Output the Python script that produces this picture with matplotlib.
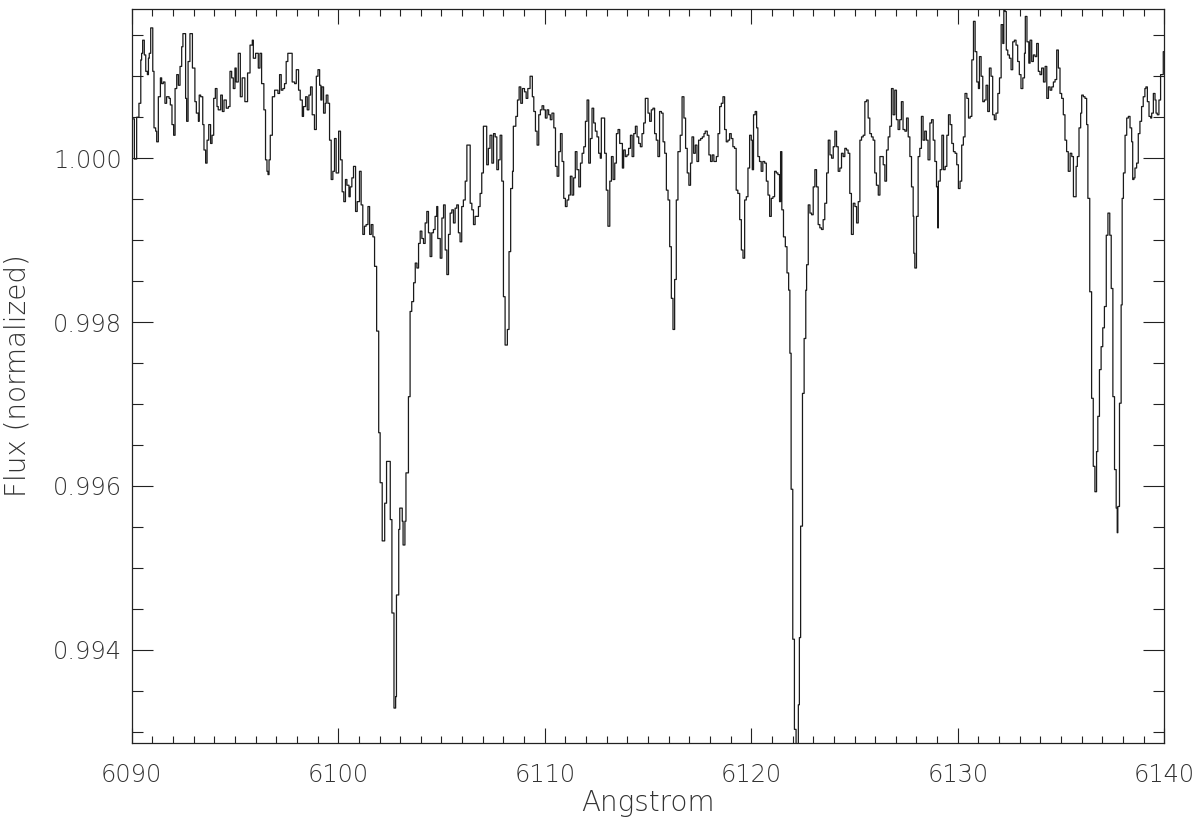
import numpy as np
import matplotlib
matplotlib.use("Agg")
import matplotlib.pyplot as plt
from matplotlib.ticker import MultipleLocator, FixedLocator

# ---- data (wavelength in Angstrom, normalized flux) ----
wavelength = [
 6090.00, 6090.13, 6090.24, 6090.35, 6090.44, 6090.48, 6090.53, 6090.61, 6090.68, 6090.76,
 6090.81, 6090.85, 6090.92, 6091.02, 6091.08, 6091.16, 6091.21, 6091.29, 6091.39, 6091.45,
 6091.53, 6091.61, 6091.69, 6091.81, 6091.87, 6091.95, 6092.03, 6092.10, 6092.18, 6092.26,
 6092.34, 6092.42, 6092.48, 6092.61, 6092.66, 6092.73, 6092.82, 6092.94, 6093.06, 6093.13,
 6093.23, 6093.27, 6093.34, 6093.44, 6093.50, 6093.58, 6093.65, 6093.73, 6093.82, 6093.89,
 6093.97, 6094.05, 6094.13, 6094.19, 6094.31, 6094.39, 6094.47, 6094.58, 6094.68, 6094.76,
 6094.84, 6094.92, 6095.00, 6095.06, 6095.16, 6095.26, 6095.35, 6095.48, 6095.61, 6095.73,
 6095.84, 6095.89, 6096.00, 6096.13, 6096.21, 6096.29, 6096.40,
 6096.48, 6096.55, 6096.60, 6096.65, 6096.71, 6096.81, 6096.92, 6097.08, 6097.16, 6097.24,
 6097.32, 6097.40, 6097.48, 6097.56, 6097.77, 6097.89, 6097.97, 6098.08, 6098.16, 6098.26,
 6098.32, 6098.42, 6098.50, 6098.58, 6098.66, 6098.74, 6098.85, 6098.94, 6099.02, 6099.10,
 6099.16, 6099.21, 6099.29, 6099.37, 6099.42, 6099.50, 6099.58, 6099.66, 6099.74, 6099.82,
 6099.90, 6100.02, 6100.11, 6100.19, 6100.27, 6100.35, 6100.42, 6100.52, 6100.58, 6100.66,
 6100.74, 6100.84, 6100.92, 6101.03, 6101.11, 6101.19, 6101.27, 6101.35, 6101.44, 6101.52,
 6101.60, 6101.68, 6101.76,
 6101.86, 6101.96, 6102.03, 6102.13, 6102.25, 6102.34, 6102.52, 6102.60, 6102.70, 6102.78,
 6102.82, 6102.93, 6102.98, 6103.10, 6103.14, 6103.23, 6103.28, 6103.40, 6103.48, 6103.56,
 6103.65, 6103.73, 6103.81, 6103.89, 6103.97,
 6104.05, 6104.13, 6104.21, 6104.29, 6104.37, 6104.45, 6104.53, 6104.61, 6104.69, 6104.77,
 6104.82, 6104.94, 6105.02, 6105.10, 6105.18, 6105.26, 6105.34, 6105.42, 6105.50, 6105.58,
 6105.66, 6105.74, 6105.82, 6105.90, 6105.98, 6106.06, 6106.15, 6106.23, 6106.39, 6106.47,
 6106.55, 6106.63, 6106.79, 6106.87, 6106.95, 6107.03, 6107.19, 6107.27, 6107.35, 6107.44,
 6107.52, 6107.60, 6107.68, 6107.76, 6107.84, 6107.92, 6108.00, 6108.08, 6108.19, 6108.27,
 6108.35, 6108.44, 6108.48, 6108.60, 6108.68, 6108.76, 6108.84, 6108.92, 6109.02, 6109.10,
 6109.18, 6109.29,
 6109.40, 6109.47, 6109.55, 6109.63, 6109.71, 6109.79, 6109.87, 6109.95, 6110.03, 6110.11,
 6110.19, 6110.27, 6110.35, 6110.44, 6110.52, 6110.60, 6110.68, 6110.76, 6110.84, 6110.92,
 6111.00, 6111.08, 6111.16, 6111.24, 6111.32, 6111.40, 6111.48, 6111.56, 6111.65, 6111.73,
 6111.81, 6111.89, 6111.97, 6112.05, 6112.13, 6112.21, 6112.29, 6112.37, 6112.45, 6112.53,
 6112.61, 6112.69, 6112.74, 6112.90, 6112.98, 6113.06, 6113.15, 6113.23, 6113.31, 6113.39,
 6113.47, 6113.55, 6113.63, 6113.76, 6113.82, 6113.90, 6113.98, 6114.06, 6114.15, 6114.23,
 6114.31, 6114.39, 6114.47, 6114.55, 6114.63, 6114.71, 6114.79, 6114.87, 6115.00, 6115.08,
 6115.16, 6115.24, 6115.32, 6115.40, 6115.48, 6115.56, 6115.65, 6115.73, 6115.81, 6115.89,
 6115.97,
 6116.05, 6116.13, 6116.21, 6116.29, 6116.37, 6116.45, 6116.56, 6116.65, 6116.74, 6116.82,
 6116.90, 6116.98, 6117.06, 6117.13, 6117.21, 6117.29, 6117.37, 6117.45, 6117.55, 6117.63,
 6117.71, 6117.77, 6117.87, 6117.95, 6118.03, 6118.11, 6118.19, 6118.31, 6118.39, 6118.47,
 6118.55, 6118.63, 6118.71, 6118.79, 6118.87, 6118.95, 6119.03, 6119.11, 6119.19, 6119.27,
 6119.35, 6119.44, 6119.52, 6119.60, 6119.68, 6119.76, 6119.84, 6119.92, 6120.00, 6120.05,
 6120.11, 6120.19, 6120.26, 6120.32, 6120.40, 6120.48, 6120.56, 6120.65, 6120.73, 6120.81,
 6120.89, 6120.97, 6121.05, 6121.13, 6121.21, 6121.29, 6121.37, 6121.42, 6121.48, 6121.56,
 6121.65, 6121.73, 6121.81,
 6121.87, 6121.93, 6122.01, 6122.09, 6122.17, 6122.28, 6122.33, 6122.39, 6122.48, 6122.56,
 6122.64, 6122.68, 6122.76, 6122.84, 6122.92,
 6123.00, 6123.08, 6123.16, 6123.24, 6123.32, 6123.40, 6123.48, 6123.56, 6123.65, 6123.73,
 6123.81, 6123.89, 6123.97, 6124.05, 6124.13, 6124.21, 6124.29, 6124.37, 6124.45, 6124.53,
 6124.61, 6124.69, 6124.77, 6124.85, 6124.94, 6125.02, 6125.10, 6125.18, 6125.26, 6125.34,
 6125.42, 6125.50, 6125.58, 6125.66, 6125.74, 6125.82, 6125.90, 6125.98, 6126.06, 6126.15,
 6126.23, 6126.39, 6126.47, 6126.55, 6126.63, 6126.71, 6126.79, 6126.87, 6126.95, 6127.03,
 6127.11, 6127.19, 6127.27, 6127.35, 6127.44, 6127.52, 6127.60, 6127.68, 6127.76, 6127.84,
 6127.87, 6127.92, 6128.00, 6128.08, 6128.16, 6128.24, 6128.32, 6128.40, 6128.48, 6128.56,
 6128.65, 6128.73, 6128.81, 6128.89, 6128.97,
 6129.03, 6129.06, 6129.15, 6129.23, 6129.31, 6129.39, 6129.47, 6129.55, 6129.63, 6129.71,
 6129.79, 6129.87, 6129.95, 6130.03, 6130.11, 6130.19, 6130.27, 6130.35, 6130.44, 6130.52,
 6130.60, 6130.68, 6130.76, 6130.84, 6130.92, 6131.00, 6131.05, 6131.13, 6131.21, 6131.29,
 6131.37, 6131.45, 6131.53, 6131.61, 6131.69, 6131.77, 6131.85, 6131.94, 6132.02, 6132.10,
 6132.18, 6132.23, 6132.29, 6132.35, 6132.42, 6132.50, 6132.58, 6132.66, 6132.74, 6132.82,
 6132.90, 6132.98, 6133.06, 6133.15, 6133.23, 6133.27, 6133.35, 6133.44, 6133.50, 6133.58,
 6133.66, 6133.74, 6133.82, 6133.90, 6133.98, 6134.06, 6134.15, 6134.23, 6134.31, 6134.39,
 6134.47, 6134.55, 6134.63, 6134.71, 6134.79, 6134.87, 6134.95, 6135.03, 6135.11, 6135.19,
 6135.27, 6135.35, 6135.44, 6135.52,
 6135.60, 6135.73, 6135.79, 6135.87, 6135.95, 6136.00, 6136.08, 6136.16, 6136.24, 6136.30,
 6136.39, 6136.48, 6136.56, 6136.64, 6136.72, 6136.78, 6136.86, 6136.94, 6137.02, 6137.10,
 6137.19, 6137.27, 6137.36, 6137.43, 6137.51, 6137.59, 6137.67, 6137.72, 6137.75, 6137.83,
 6137.91, 6137.96, 6138.02, 6138.10, 6138.18, 6138.26, 6138.34, 6138.42, 6138.47, 6138.53,
 6138.58, 6138.66, 6138.74, 6138.82, 6138.90, 6138.98, 6139.06, 6139.11, 6139.18, 6139.26,
 6139.34, 6139.39, 6139.47, 6139.55, 6139.60, 6139.66, 6139.74, 6139.82, 6139.95,
]

flux = [
 1.00048, 0.99999, 1.00050, 1.00067, 1.00120, 1.00128, 1.00144, 1.00126, 1.00106, 1.00102,
 1.00122, 1.00128, 1.00159, 1.00106, 1.00037, 1.00033, 1.00020, 1.00075, 1.00098, 1.00091,
 1.00093, 1.00067, 1.00075, 1.00073, 1.00065, 1.00041, 1.00028, 1.00085, 1.00102, 1.00089,
 1.00112, 1.00136, 1.00152, 1.00073, 1.00045, 1.00118, 1.00152, 1.00110, 1.00069, 1.00055,
 1.00045, 1.00077, 1.00075, 1.00041, 1.00010, 0.99994, 1.00022, 1.00041, 1.00018, 1.00028,
 1.00073, 1.00085, 1.00063, 1.00059, 1.00077, 1.00057, 1.00071, 1.00061, 1.00063, 1.00106,
 1.00098, 1.00085, 1.00110, 1.00093, 1.00128, 1.00075, 1.00098, 1.00069, 1.00104, 1.00138,
 1.00144, 1.00122, 1.00128, 1.00110, 1.00128, 1.00091, 1.00059,
 0.99998, 0.99984, 0.99980, 0.99998, 1.00028, 1.00075, 1.00083, 1.00079, 1.00102, 1.00083,
 1.00085, 1.00091, 1.00118, 1.00128, 1.00093, 1.00091, 1.00108, 1.00083, 1.00071, 1.00051,
 1.00063, 1.00075, 1.00059, 1.00077, 1.00087, 1.00053, 1.00035, 1.00100, 1.00108, 1.00089,
 1.00071, 1.00087, 1.00055, 1.00067, 1.00077, 1.00067, 1.00022, 0.99974, 0.99984, 1.00024,
 0.99982, 1.00033, 0.99998, 0.99959, 0.99947, 0.99974, 0.99967, 0.99953, 0.99965, 0.99976,
 0.99990, 0.99935, 0.99947, 0.99984, 0.99943, 0.99907, 0.99917, 0.99919, 0.99941, 0.99907,
 0.99919, 0.99904, 0.99868,
 0.99789, 0.99665, 0.99604, 0.99533, 0.99579, 0.99630, 0.99559, 0.99445, 0.99329, 0.99343,
 0.99467, 0.99547, 0.99573, 0.99557, 0.99528, 0.99557, 0.99616, 0.99709, 0.99813, 0.99825,
 0.99848, 0.99872, 0.99866, 0.99896, 0.99911,
 0.99902, 0.99896, 0.99921, 0.99935, 0.99909, 0.99880, 0.99909, 0.99913, 0.99929, 0.99941,
 0.99902, 0.99878, 0.99927, 0.99943, 0.99888, 0.99858, 0.99907, 0.99933, 0.99937, 0.99921,
 0.99939, 0.99943, 0.99909, 0.99898, 0.99941, 0.99949, 0.99972, 1.00016, 0.99945, 0.99937,
 0.99919, 0.99929, 0.99941, 0.99957, 0.99982, 1.00039, 0.99992, 1.00012, 1.00028, 0.99994,
 1.00030, 1.00026, 0.99986, 0.99998, 1.00028, 0.99972, 0.99831, 0.99772, 0.99791, 0.99886,
 0.99963, 0.99984, 1.00039, 1.00051, 1.00071, 1.00087, 1.00067, 1.00085, 1.00081, 1.00073,
 1.00085, 1.00100,
 1.00075, 1.00057, 1.00033, 1.00016, 1.00053, 1.00059, 1.00064, 1.00059, 1.00049, 1.00059,
 1.00053, 1.00047, 1.00055, 1.00037, 0.99990, 0.99978, 1.00008, 1.00030, 0.99996, 0.99951,
 0.99941, 0.99949, 0.99955, 0.99978, 0.99955, 0.99976, 1.00008, 0.99986, 0.99965, 0.99994,
 1.00006, 1.00014, 1.00045, 1.00071, 0.99994, 1.00024, 1.00061, 1.00043, 1.00033, 1.00026,
 1.00006, 1.00000, 1.00049, 1.00006, 0.99961, 0.99917, 0.99972, 1.00002, 0.99974, 0.99994,
 1.00030, 1.00035, 1.00018, 0.99988, 1.00010, 1.00002, 1.00004, 1.00012, 1.00028, 1.00002,
 1.00030, 1.00039, 1.00026, 1.00018, 1.00014, 1.00030, 1.00043, 1.00073, 1.00055, 1.00045,
 1.00059, 1.00061, 1.00030, 1.00022, 1.00002, 1.00057, 1.00055, 1.00020, 1.00006, 0.99961,
 0.99949,
 0.99892, 0.99829, 0.99791, 0.99852, 0.99949, 1.00008, 1.00028, 1.00075, 1.00049, 1.00012,
 0.99982, 0.99967, 0.99994, 1.00026, 1.00006, 1.00016, 0.99996, 1.00022, 1.00024, 1.00026,
 1.00030, 1.00033, 1.00028, 1.00004, 0.99996, 1.00004, 0.99996, 1.00002, 1.00030, 1.00063,
 1.00067, 1.00075, 1.00035, 1.00020, 1.00022, 1.00030, 1.00024, 1.00014, 1.00012, 0.99961,
 0.99957, 0.99925, 0.99888, 0.99878, 0.99949, 0.99953, 0.99988, 1.00028, 1.00022, 0.99986,
 1.00053, 1.00057, 1.00037, 1.00002, 0.99996, 0.99984, 0.99996, 0.99994, 0.99972, 0.99955,
 0.99929, 0.99951, 0.99953, 0.99984, 0.99982, 0.99980, 0.99947, 1.00008, 0.99937, 0.99904,
 0.99892, 0.99860, 0.99839,
 0.99762, 0.99596, 0.99413, 0.99303, 0.99240, 0.99333, 0.99415, 0.99551, 0.99713, 0.99780,
 0.99839, 0.99870, 0.99943, 0.99933, 0.99931,
 0.99965, 0.99986, 0.99965, 0.99919, 0.99915, 0.99913, 0.99925, 0.99945, 0.99982, 1.00022,
 1.00004, 1.00000, 1.00014, 1.00033, 1.00014, 0.99984, 0.99988, 1.00006, 1.00002, 1.00012,
 1.00010, 1.00006, 0.99957, 0.99907, 0.99945, 0.99941, 0.99921, 0.99947, 1.00022, 1.00026,
 1.00028, 1.00069, 1.00071, 1.00049, 1.00030, 1.00026, 1.00022, 0.99982, 0.99967, 0.99955,
 1.00002, 0.99992, 0.99972, 1.00010, 1.00026, 1.00039, 1.00085, 1.00053, 1.00083, 1.00047,
 1.00035, 1.00047, 1.00069, 1.00035, 1.00033, 1.00049, 1.00026, 1.00002, 0.99965, 0.99929,
 0.99884, 0.99866, 0.99929, 1.00002, 1.00012, 1.00051, 1.00022, 1.00033, 1.00022, 0.99998,
 1.00043, 1.00047, 1.00022, 0.99996, 0.99965,
 0.99915, 0.99972, 0.99986, 1.00028, 0.99986, 0.99990, 1.00028, 1.00053, 1.00041, 1.00018,
 1.00008, 1.00006, 0.99992, 0.99963, 0.99972, 1.00016, 1.00026, 1.00079, 1.00073, 1.00049,
 1.00051, 1.00120, 1.00167, 1.00130, 1.00093, 1.00085, 1.00124, 1.00100, 1.00069, 1.00071,
 1.00089, 1.00057, 1.00110, 1.00100, 1.00053, 1.00047, 1.00055, 1.00079, 1.00098, 1.00163,
 1.00140, 1.00190, 1.00179, 1.00132, 1.00126, 1.00122, 1.00108, 1.00142, 1.00144, 1.00138,
 1.00118, 1.00102, 1.00085, 1.00098, 1.00128, 1.00173, 1.00142, 1.00116, 1.00144, 1.00118,
 1.00126, 1.00124, 1.00140, 1.00106, 1.00102, 1.00110, 1.00093, 1.00112, 1.00073, 1.00087,
 1.00083, 1.00087, 1.00093, 1.00096, 1.00132, 1.00110, 1.00079, 1.00073, 1.00053, 1.00022,
 1.00008, 0.99984, 1.00006, 1.00002,
 0.99953, 0.99990, 1.00002, 1.00037, 1.00055, 1.00077, 1.00075, 1.00073, 1.00041, 0.99951,
 0.99837, 0.99707, 0.99624, 0.99593, 0.99642, 0.99685, 0.99742, 0.99770, 0.99793, 0.99819,
 0.99906, 0.99933, 0.99906, 0.99841, 0.99709, 0.99620, 0.99573, 0.99543, 0.99575, 0.99701,
 0.99821, 0.99951, 0.99982, 1.00028, 1.00049, 1.00051, 1.00037, 1.00020, 0.99974, 0.99976,
 0.99988, 0.99994, 1.00030, 1.00045, 1.00063, 1.00075, 1.00085, 1.00087, 1.00069, 1.00051,
 1.00049, 1.00055, 1.00079, 1.00071, 1.00055, 1.00053, 1.00071, 1.00102, 1.00130,
]

wl_end = 6140.05          # right edge of the last spectral bin
x_range = (6090, 6140)
y_range = (0.99286, 1.001817)
x_ticks = [6090, 6100, 6110, 6120, 6130, 6140]
y_ticks = [0.994, 0.996, 0.998, 1.000]
y_ticklabels = ["0.994", "0.996", "0.998", "1.000"]

# ---- figure ----
TXT = "#333333"
FAM = ["DejaVu Sans"]
fig = plt.figure(figsize=(12, 8.24), dpi=100)
ax = fig.add_axes([131.7 / 1200, 1 - 743.3 / 824, (1164.3 - 131.7) / 1200, (743.3 - 9.3) / 824])

wl = np.append(np.asarray(wavelength), wl_end)
fl = np.append(np.asarray(flux), flux[-1])
ax.step(wl, fl, where="post", color="#1a1a1a", lw=0.9)

ax.set_xlim(*x_range)
ax.set_ylim(*y_range)

ax.xaxis.set_major_locator(FixedLocator(x_ticks))
ax.xaxis.set_minor_locator(MultipleLocator(1))
ax.yaxis.set_major_locator(FixedLocator(y_ticks))
ax.yaxis.set_minor_locator(MultipleLocator(0.0005))
ax.set_xticklabels([str(t) for t in x_ticks], family=FAM, weight="light")
ax.set_yticklabels(y_ticklabels, family=FAM, weight="light")

ax.tick_params(axis="x", which="major", direction="in", length=10.5, width=0.8,
               top=True, bottom=True, pad=14, labelsize=17.3, labelcolor=TXT, color="#222222")
ax.tick_params(axis="x", which="minor", direction="in", length=5, width=0.8,
               top=True, bottom=True, color="#222222")
ax.tick_params(axis="y", which="major", direction="in", length=15, width=0.8,
               left=True, right=True, pad=7, labelsize=17.3, labelcolor=TXT, color="#222222")
ax.tick_params(axis="y", which="minor", direction="in", length=8, width=0.8,
               left=True, right=True, color="#222222")
for s in ax.spines.values():
    s.set_linewidth(0.9)
    s.set_color("#222222")

fig.text(648 / 1200, 1 - 803 / 824, "Angstrom", ha="center", va="center",
         fontsize=20, color=TXT, family=FAM, weight="light")
fig.text(18 / 1200, 1 - 376 / 824, "Flux (normalized)", ha="center", va="center",
         rotation=90, fontsize=20, color=TXT, family=FAM, weight="light")

fig.savefig("out.png", dpi=100)
